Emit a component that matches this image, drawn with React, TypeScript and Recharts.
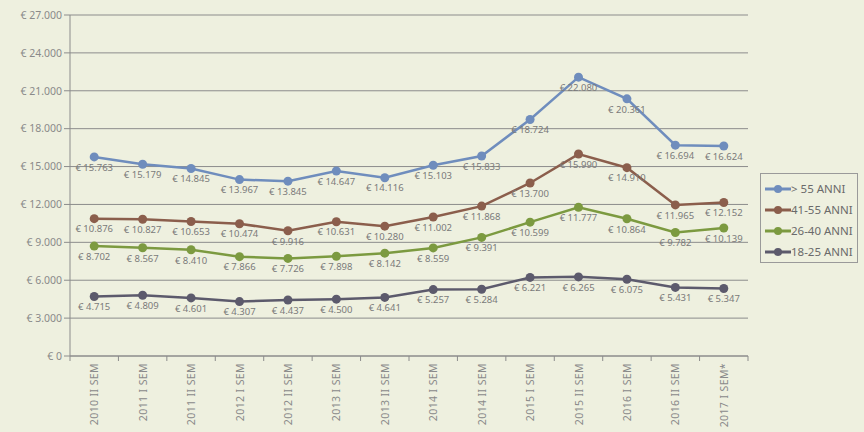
import { LineChart, Line, XAxis, YAxis, CartesianGrid, LabelList } from 'recharts';

const categories = [
  '2010 II SEM', '2011 I SEM', '2011 II SEM', '2012 I SEM', '2012 II SEM', '2013 I SEM', '2013 II SEM',
  '2014 I SEM', '2014 II SEM', '2015 I SEM', '2015 II SEM', '2016 I SEM', '2016 II SEM', '2017 I SEM*',
];
const over55 = [15763, 15179, 14845, 13967, 13845, 14647, 14116, 15103, 15833, 18724, 22080, 20361, 16694, 16624];
const age41to55 = [10876, 10827, 10653, 10474, 9916, 10631, 10280, 11002, 11868, 13700, 15990, 14910, 11965, 12152];
const age26to40 = [8702, 8567, 8410, 7866, 7726, 7898, 8142, 8559, 9391, 10599, 11777, 10864, 9782, 10139];
const age18to25 = [4715, 4809, 4601, 4307, 4437, 4500, 4641, 5257, 5284, 6221, 6265, 6075, 5431, 5347];
const yTicks = [0, 3000, 6000, 9000, 12000, 15000, 18000, 21000, 24000, 27000];

const series = [
  { key: 'over55', name: '> 55 ANNI', color: '#6f8dbd' },
  { key: 'a41', name: '41-55 ANNI', color: '#8b5e4c' },
  { key: 'a26', name: '26-40 ANNI', color: '#7c9a40' },
  { key: 'a18', name: '18-25 ANNI', color: '#5c5a6c' },
];

const data = categories.map((c, i) => ({
  i,
  cat: c,
  over55: over55[i],
  a41: age41to55[i],
  a26: age26to40[i],
  a18: age18to25[i],
}));

const fmt = (v: number) => {
  if (v === 0) return '€ 0';
  return '€ ' + String(v).replace(/\B(?=(\d{3})+(?!\d))/g, '.');
};

const BG = '#eef0df';
const FONT = '"Noto Sans", sans-serif';
const PLOT_LEFT = 70;
const PLOT_RIGHT = 748;
const PLOT_BOTTOM = 356;
const BAND = (PLOT_RIGHT - PLOT_LEFT) / categories.length;

if (typeof document !== 'undefined') {
  document.body.style.margin = '0';
  document.body.style.background = BG;
}

// category label, plus the small tick marks at the band edges
const CatTick = (props: any) => {
  const { payload } = props;
  const x = Number(props.x);
  const label = categories[payload.value];
  if (label === undefined) return null;
  const top = PLOT_BOTTOM;
  const lx = x - BAND / 2;
  const rx = x + BAND / 2;
  return (
    <g>
      <path d={`M${lx},${top}v5`} stroke="#8c8c8c" fill="none" />
      {payload.value === categories.length - 1 && <path d={`M${rx},${top}v5`} stroke="#8c8c8c" fill="none" />}
      <text
        x={x}
        y={top + 7}
        transform={`rotate(-90, ${x}, ${top + 7})`}
        textAnchor="end"
        dominantBaseline="central"
        fontSize={10.5}
        letterSpacing={0.4}
        fill="#8a8a8a"
        stroke="none"
        fontFamily={FONT}
      >
        {label}
      </text>
    </g>
  );
};

const LegendBox = () => (
  <div
    style={{
      position: 'absolute',
      left: 760,
      top: 173,
      width: 98,
      height: 90,
      border: '1px solid #9a9a9a',
      boxSizing: 'border-box',
      padding: '4px 0 0 4px',
      fontFamily: FONT,
    }}
  >
    {series.map((s) => (
      <div key={s.key} style={{ display: 'flex', alignItems: 'center', height: 21, whiteSpace: 'nowrap' }}>
        <svg width={26} height={10} style={{ flexShrink: 0 }}>
          <line x1={0} y1={5} x2={26} y2={5} stroke={s.color} strokeWidth={3} />
          <circle cx={13} cy={5} r={4} fill={s.color} />
        </svg>
        <span style={{ fontSize: 11.5, color: '#6a6a6a' }}>{s.name}</span>
      </div>
    ))}
  </div>
);

export default function App() {
  return (
    <div style={{ position: 'relative', width: 864, height: 432, background: BG }}>
      <LineChart width={864} height={432} data={data} margin={{ top: 15, right: 116, bottom: 0, left: 8 }}>
        <CartesianGrid horizontal vertical={false} stroke="#8c8c8c" strokeWidth={1} />
        <XAxis
          dataKey="i"
          type="number"
          domain={[-0.5, 13.5]}
          ticks={categories.map((_, i) => i)}
          tick={<CatTick />}
          tickLine={false}
          stroke="#8c8c8c"
          tickSize={0}
          height={76}
          interval={0}
          allowDataOverflow
        />
        <YAxis
          domain={[0, 27000]}
          ticks={yTicks}
          tickFormatter={fmt}
          width={62}
          stroke="#8c8c8c"
          tickSize={6}
          tick={{ fontSize: 10.5, fill: '#8a8a8a', fontFamily: FONT }}
          interval={0}
        />
        {series.map((s) => (
          <Line
            key={s.key}
            dataKey={s.key}
            name={s.name}
            stroke={s.color}
            strokeWidth={2.5}
            dot={{ r: 4.5, fill: s.color, stroke: s.color, strokeWidth: 0 }}
            isAnimationActive={false}
          >
            <LabelList
              dataKey={s.key}
              position="bottom"
              offset={7}
              formatter={(v: any) => fmt(Number(v))}
              style={{ fontSize: 9.5, fill: '#7a7a7a', fontFamily: FONT }}
            />
          </Line>
        ))}
      </LineChart>
      <LegendBox />
    </div>
  );
}
